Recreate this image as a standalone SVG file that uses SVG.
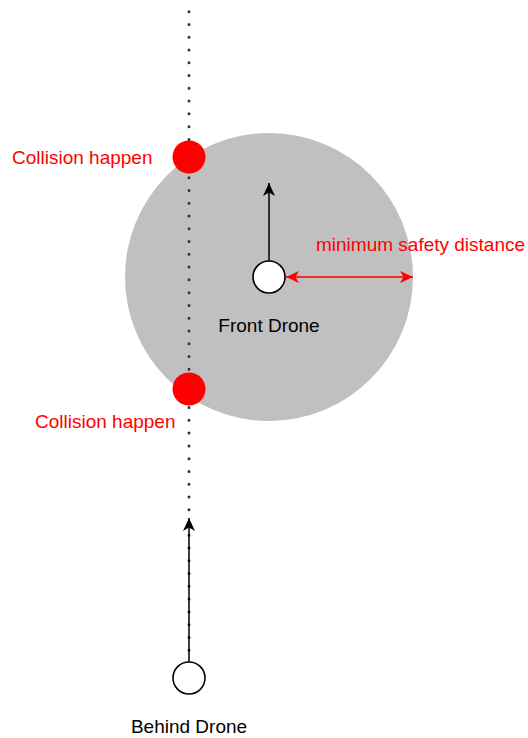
<svg xmlns="http://www.w3.org/2000/svg" width="528" height="738" viewBox="0 0 528 738">
<style>
text{font-family:"Liberation Sans",Arial,sans-serif;font-size:19px}
.red{fill:#ff0000}
.blk{fill:#000}
.drone{fill:#fff;stroke:#000;stroke-width:1.6}
</style>
<defs>
<marker id="ab" markerUnits="userSpaceOnUse" markerWidth="14" markerHeight="14" refX="13" refY="7" orient="auto">
<path d="M0,1 L13,7 L0,13 L3.5,7 z" fill="#000"/>
</marker>
<marker id="ar" markerUnits="userSpaceOnUse" markerWidth="14" markerHeight="14" refX="13" refY="7" orient="auto-start-reverse">
<path d="M0,1 L13,7 L0,13 L3.5,7 z" fill="#ff0000"/>
</marker>
</defs>
<g id="safety-zone"><circle cx="269" cy="277" r="144" fill="#c0c0c0"/></g>
<g id="connectors">
<line x1="189" y1="11.7" x2="189" y2="662" stroke="#333" stroke-width="3" stroke-linecap="round" stroke-dasharray="0 12.77"/>
<line x1="189" y1="662" x2="189" y2="518" stroke="#000" stroke-width="1.5" marker-end="url(#ab)"/>
<line x1="269" y1="261" x2="269" y2="183" stroke="#000" stroke-width="1.5" marker-end="url(#ab)"/>
<line x1="286" y1="277" x2="413" y2="277" stroke="#ff0000" stroke-width="1.5" marker-start="url(#ar)" marker-end="url(#ar)"/>
</g>
<g id="collision-top"><circle cx="189" cy="157" r="16.5" class="red"/></g>
<g id="collision-bottom"><circle cx="189" cy="389" r="16.5" class="red"/></g>
<g id="front-drone"><circle cx="269" cy="277" r="16" class="drone"/></g>
<g id="behind-drone"><circle cx="189" cy="678" r="16" class="drone"/></g>
<g id="labels">
<text x="12" y="164" class="red">Collision happen</text>
<text x="35" y="428" class="red">Collision happen</text>
<text x="316" y="251" class="red">minimum safety distance</text>
<text x="269" y="332" text-anchor="middle" fill="#000">Front Drone</text>
<text x="189" y="733" text-anchor="middle" fill="#000">Behind Drone</text>
</g>
</svg>
